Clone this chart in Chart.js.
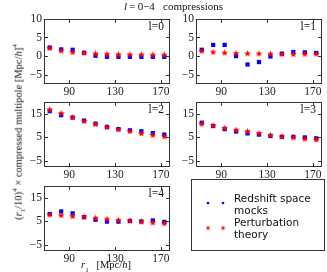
<!DOCTYPE html>
<html><head><meta charset="utf-8">
<script src="https://cdn.jsdelivr.net/npm/chart.js@4"></script>
<style>
body{margin:0;background:#fff;}
#fig{position:relative;width:327px;height:272px;overflow:hidden;font-family:'Liberation Serif','DejaVu Serif',serif;color:#111;}
#fig canvas{position:absolute;}
.lab{position:absolute;white-space:nowrap;line-height:1;}
.plab{font-size:11.5px;}
#legend{position:absolute;left:191px;top:179px;width:134px;height:72px;border:1px solid #333;box-sizing:border-box;font-family:'DejaVu Sans',sans-serif;font-size:10.5px;}
#legend .t{position:absolute;left:42px;line-height:12px;white-space:nowrap;}
</style></head><body>
<div id="fig">
  <canvas id="c0" width="161" height="90"></canvas>
  <canvas id="c1" width="161" height="90"></canvas>
  <canvas id="c2" width="161" height="90"></canvas>
  <canvas id="c3" width="161" height="90"></canvas>
  <canvas id="c4" width="161" height="90"></canvas>
  <div class="lab" style="left:124px;top:1px;font-size:11px;"><i>l</i>&thinsp;=&thinsp;0&minus;4&nbsp;&nbsp; compressions</div>
  <div class="lab plab" style="right:163px;top:21px;">l=0</div>
  <div class="lab plab" style="right:11px;top:21px;">l=1</div>
  <div class="lab plab" style="right:163px;top:104px;">l=2</div>
  <div class="lab plab" style="right:11px;top:104px;">l=3</div>
  <div class="lab plab" style="right:163px;top:188px;">l=4</div>
  <div class="lab" style="left:19px;top:132px;font-size:10.5px;transform:translate(-50%,-50%) rotate(-90deg);">(<i>r</i><sub style="font-size:7px">1</sub>/10)<sup style="font-size:7px">4</sup> &times; compressed multipole [Mpc/<i>h</i>]<sup style="font-size:7px">4</sup></div>
  <div class="lab" style="left:106px;top:267px;font-size:10.5px;transform:translate(-50%,-50%);"><i>r</i><sub style="font-size:7px">1</sub>&nbsp;&nbsp; [Mpc/<i>h</i>]</div>
  <div id="legend">
    <canvas id="lg" width="40" height="70" style="left:0;top:0;"></canvas>
    <div class="t" style="top:12px;">Redshift space<br>mocks</div>
    <div class="t" style="top:36px;">Perturbation<br>theory</div>
  </div>
</div>
<script>
const rValues = [73, 83, 93, 103, 113, 123, 133, 143, 153, 163, 173];
const xTicks = [90, 130, 170];
const yTicksTop = [-5, 0, 5, 10];
const yTicksLower = [-5, 0, 5, 10, 15, 20];

const mocksL0  = [2.3, 1.8, 1.7, 0.9, 0.1, -0.2, -0.2, -0.2, -0.2, -0.2, -0.2];
const theoryL0 = [2.1, 1.4, 1.0, 0.8, 0.6, 0.5, 0.4, 0.35, 0.35, 0.3, 0.3];
const mocksL1  = [1.7, 3.0, 3.0, 0.0, -2.25, -1.6, -0.1, 0.65, 1.1, 1.0, 0.85];
const theoryL1 = [1.3, 1.05, 0.85, 0.7, 0.65, 0.6, 0.55, 0.5, 0.45, 0.5, 0.55];
const mocksL2  = [16.1, 14.4, 13.4, 12.1, 10.8, 9.45, 8.5, 8.0, 7.6, 6.8, 6.2];
const theoryL2 = [16.7, 15.1, 13.4, 11.8, 10.5, 9.2, 8.3, 7.5, 6.6, 5.9, 5.3];
const mocksL3  = [11.2, 9.85, 8.5, 7.5, 6.7, 6.2, 5.6, 5.25, 5.25, 5.0, 4.6];
const theoryL3 = [10.6, 9.85, 8.9, 8.1, 7.5, 6.7, 5.9, 5.25, 4.85, 4.3, 3.95];
const mocksL4  = [8.1, 9.2, 8.4, 6.8, 5.7, 4.9, 4.9, 5.2, 5.0, 5.4, 4.8];
const theoryL4 = [7.8, 7.5, 7.1, 6.9, 6.4, 5.9, 5.5, 5.2, 4.8, 4.4, 4.05];

function starCanvas(size, color) {
  const c = document.createElement('canvas');
  c.width = size; c.height = size;
  const g = c.getContext('2d');
  const cx = size / 2, cy = size / 2, R = size / 2, r = R * 0.45;
  g.beginPath();
  for (let i = 0; i < 10; i++) {
    const a = -Math.PI / 2 + i * Math.PI / 5;
    const rad = i % 2 === 0 ? R : r;
    g.lineTo(cx + rad * Math.cos(a), cy + rad * Math.sin(a));
  }
  g.closePath();
  g.fillStyle = color; g.fill();
  return c;
}
const star = starCanvas(7, '#ff0000');

const framePlugin = {
  id: 'frame',
  afterDatasetsDraw(chart) {
    const { ctx, chartArea: a, scales } = chart;
    ctx.save();
    ctx.strokeStyle = '#333';
    ctx.lineWidth = 1;
    ctx.strokeRect(Math.round(a.left) + 0.5, Math.round(a.top) + 0.5, Math.round(a.right - a.left) - 1, Math.round(a.bottom - a.top) - 1);
    const tl = 4;
    ctx.beginPath();
    scales.x.ticks.forEach(t => {
      const px = Math.round(scales.x.getPixelForValue(t.value)) + 0.5;
      ctx.moveTo(px, a.bottom); ctx.lineTo(px, a.bottom - tl);
      ctx.moveTo(px, a.top); ctx.lineTo(px, a.top + tl);
    });
    scales.y.ticks.forEach(t => {
      const py = Math.round(scales.y.getPixelForValue(t.value)) + 0.5;
      ctx.moveTo(a.left, py); ctx.lineTo(a.left + tl, py);
      ctx.moveTo(a.right, py); ctx.lineTo(a.right - tl, py);
    });
    ctx.stroke();
    ctx.restore();
  }
};

const tickFont = { family: "'Liberation Serif','DejaVu Serif',serif", size: 11.5 };

function makePanel(id, mocks, theory, yTicks, yMax) {
  const pts = arr => arr.map((v, i) => ({ x: rValues[i], y: v }));
  new Chart(document.getElementById(id), {
    type: 'scatter',
    data: {
      datasets: [
        { label: 'Redshift space mocks', data: pts(mocks), pointStyle: 'rect', pointRadius: 3, backgroundColor: '#0000ff', borderWidth: 0, order: 2 },
        { label: 'Perturbation theory', data: pts(theory), pointStyle: star, pointRadius: 3.5, backgroundColor: '#ff0000', borderWidth: 0, order: 1 }
      ]
    },
    options: {
      responsive: false, animation: false, devicePixelRatio: 1,
      layout: { padding: { top: 5, right: 5, left: 0, bottom: 0 } },
      plugins: { legend: { display: false }, tooltip: { enabled: false } },
      scales: {
        x: {
          type: 'linear', min: 68, max: 178,
          grid: { display: false, drawTicks: false }, border: { display: false },
          afterBuildTicks: s => { s.ticks = xTicks.map(v => ({ value: v })); },
          afterFit: s => { s.height = 16; },
          ticks: { font: tickFont, color: '#222', padding: 1, maxRotation: 0 }
        },
        y: {
          type: 'linear', min: -7.5, max: yMax,
          grid: { display: false, drawTicks: false }, border: { display: false },
          afterBuildTicks: s => { s.ticks = yTicks.map(v => ({ value: v })); },
          afterFit: s => { s.width = 30; },
          ticks: { font: tickFont, color: '#222', padding: 2, callback: v => (v < 0 ? '\u2212' + Math.abs(v) : String(v)) }
        }
      }
    },
    plugins: [framePlugin]
  });
}

const panelPos = { c0: [44, 15], c1: [196, 15], c2: [44, 98], c3: [196, 98], c4: [44, 182] };
Object.entries(panelPos).forEach(([id, [L, T]]) => {
  const el = document.getElementById(id);
  el.style.left = (L - 30) + 'px';
  el.style.top = (T - 5) + 'px';
});

makePanel('c0', mocksL0, theoryL0, yTicksTop, 10);
makePanel('c1', mocksL1, theoryL1, yTicksTop, 10);
makePanel('c2', mocksL2, theoryL2, yTicksLower, 20);
makePanel('c3', mocksL3, theoryL3, yTicksLower, 20);
makePanel('c4', mocksL4, theoryL4, yTicksLower, 20);

// legend markers
(function () {
  const g = document.getElementById('lg').getContext('2d');
  g.fillStyle = '#0000ff';
  [[16, 23], [31, 23]].forEach(([x, y]) => { g.beginPath(); g.arc(x, y, 1.3, 0, Math.PI * 2); g.fill(); });
  const s = starCanvas(5, '#ff0000');
  [[16, 48], [31, 48]].forEach(([x, y]) => g.drawImage(s, x - 2.5, y - 2.5));
})();
</script>
</body></html>
